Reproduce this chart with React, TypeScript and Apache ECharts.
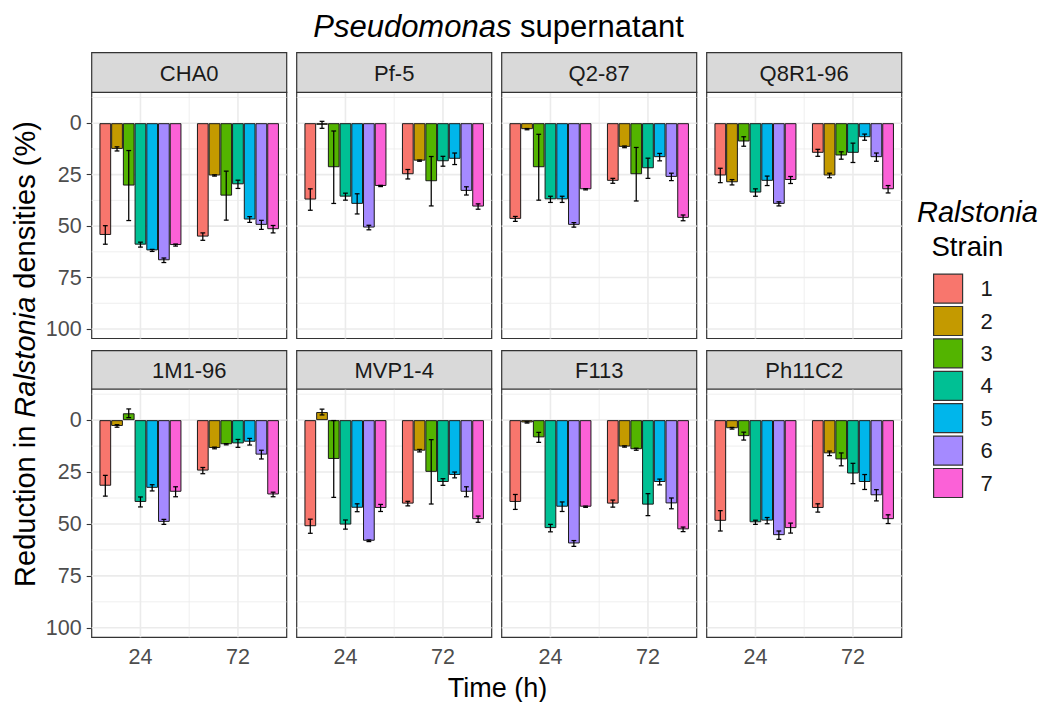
import React, { useEffect, useRef } from 'react';
import * as echarts from 'echarts';

// ---- data -------------------------------------------------------------
const times = ['24', '72'];
const strains = ['1', '2', '3', '4', '5', '6', '7'];
const strainColors = ['#F8766D', '#C49A00', '#53B400', '#00C094', '#00B6EB', '#A58AFF', '#FB61D7'];
const isolates = ['CHA0', 'Pf-5', 'Q2-87', 'Q8R1-96', '1M1-96', 'MVP1-4', 'F113', 'Ph11C2'];

// mean reduction (%) per strain, [24 h values, 72 h values]
const cha0Mean = [[54.3, 12.5, 30.3, 59.0, 61.8, 66.6, 59.2], [55.1, 25.4, 35.2, 29.7, 46.8, 49.4, 51.5]];
const cha0Err = [[4.5, 1.0, 17.0, 1.2, 0.5, 1.1, 0.5], [1.8, 0.3, 11.9, 2.0, 1.4, 2.2, 1.8]];
const pf5Mean = [[37.1, 0.8, 21.4, 35.7, 39.2, 50.7, 30.5], [24.8, 18.2, 28.2, 18.5, 17.3, 32.9, 40.5]];
const pf5Err = [[5.2, 1.7, 17.6, 1.7, 4.9, 1.1, 0.3], [2.3, 0.3, 12.0, 2.4, 2.8, 2.0, 1.3]];
const q287Mean = [[46.5, 2.9, 21.4, 37.0, 37.0, 49.4, 32.1], [28.0, 11.5, 24.8, 21.9, 16.5, 26.1, 46.0]];
const q287Err = [[1.2, 0.3, 16.0, 1.5, 1.5, 1.1, 0.3], [1.2, 0.4, 13.0, 4.9, 1.8, 1.8, 1.4]];
const q8r196Mean = [[25.4, 28.7, 8.9, 33.7, 28.0, 39.2, 27.6], [14.4, 25.4, 15.7, 14.4, 6.8, 16.5, 32.1]];
const q8r196Err = [[3.5, 1.3, 2.3, 1.8, 2.3, 1.0, 1.7], [1.7, 1.1, 1.8, 4.7, 1.5, 2.0, 1.8]];
const m196Mean = [[31.6, 2.8, -3.3, 39.4, 32.6, 49.0, 34.5], [24.3, 13.4, 11.6, 11.2, 10.4, 16.6, 35.8]];
const m196Err = [[5.0, 0.6, 2.1, 2.4, 1.5, 1.2, 2.4], [1.5, 0.4, 0.3, 1.9, 1.6, 2.1, 1.1]];
const mvp14Mean = [[51.1, -3.9, 18.7, 50.3, 42.2, 58.1, 42.3], [40.2, 14.7, 24.9, 29.8, 26.4, 34.5, 47.7]];
const mvp14Err = [[3.4, 1.4, 18.5, 2.2, 1.9, 0.4, 1.7], [1.1, 0.6, 15.5, 1.6, 1.4, 2.4, 1.5]];
const f113Mean = [[39.4, 1.1, 8.3, 52.0, 41.7, 59.4, 41.7], [40.2, 12.7, 14.0, 40.7, 29.8, 40.1, 52.6]];
const f113Err = [[3.6, 0.3, 2.4, 1.8, 2.3, 1.4, 0.3], [1.7, 0.3, 0.5, 5.3, 1.4, 2.6, 1.1]];
const ph11c2Mean = [[48.5, 3.9, 7.7, 49.2, 48.4, 55.4, 52.0], [42.3, 16.0, 18.9, 25.7, 29.8, 36.2, 47.7]];
const ph11c2Err = [[4.9, 0.4, 1.9, 1.0, 1.5, 2.0, 2.4], [2.0, 1.1, 3.1, 4.9, 3.6, 2.7, 2.1]];

const yTicks = [0, 25, 50, 75, 100];
const yMinor = [-12.5, 12.5, 37.5, 62.5, 87.5];

const panelMeans = [cha0Mean, pf5Mean, q287Mean, q8r196Mean, m196Mean, mvp14Mean, f113Mean, ph11c2Mean];
const panelErrs = [cha0Err, pf5Err, q287Err, q8r196Err, m196Err, mvp14Err, f113Err, ph11c2Err];

// ---- layout -----------------------------------------------------------
const FONT = '"Liberation Sans", Arial, sans-serif';
const Y_MIN = -15;
const Y_MAX = 104.6;
const COL_LEFT = [91.7, 296.7, 501.7, 706.7];
const PANEL_W = 195;
const ROW_TOP = [92.3, 389];
const ROW_H = [246.2, 248.3];
const STRIP_TOP = [52.7, 350.7];
const BAR_CAT_GAP = 0.159;
const BORDER = '#333333';

function buildOption() {
  const grids: any[] = [];
  const xAxes: any[] = [];
  const yAxes: any[] = [];
  const series: any[] = [];
  const graphics: any[] = [];

  isolates.forEach((name, i) => {
    const row = Math.floor(i / 4);
    const col = i % 4;
    grids.push({
      left: COL_LEFT[col],
      top: ROW_TOP[row],
      width: PANEL_W,
      height: ROW_H[row],
      show: true,
      backgroundColor: '#ffffff',
      borderColor: BORDER,
      borderWidth: 1.2,
      containLabel: false,
    });
    xAxes.push({
      type: 'category',
      gridIndex: i,
      data: times,
      boundaryGap: true,
      axisLine: { show: false },
      axisTick: { show: row === 1, alignWithLabel: true, length: 5, lineStyle: { color: BORDER, width: 1.1 } },
      axisLabel: { show: row === 1, color: '#4D4D4D', fontSize: 21.5, fontFamily: FONT, margin: 9 },
      splitLine: { show: false },
    });
    yAxes.push({
      type: 'value',
      gridIndex: i,
      inverse: true,
      min: Y_MIN,
      max: Y_MAX,
      axisLine: { show: false },
      splitLine: { show: false },
      axisTick: { show: col === 0, customValues: yTicks, length: 5, lineStyle: { color: BORDER, width: 1.1 } },
      axisLabel: { show: col === 0, customValues: yTicks, color: '#4D4D4D', fontSize: 21.5, fontFamily: FONT, margin: 10 },
    });

    // panel grid lines
    series.push({
      type: 'custom',
      xAxisIndex: i,
      yAxisIndex: i,
      silent: true,
      z: 1,
      data: [[0, 0]],
      encode: { x: 0, y: 1 },
      renderItem: (params: any, api: any) => {
        const cs = params.coordSys;
        const children: any[] = [];
        const hLine = (v: number, w: number) => {
          const y = api.coord([0, v])[1];
          children.push({ type: 'line', shape: { x1: cs.x, y1: y, x2: cs.x + cs.width, y2: y }, style: { stroke: '#EBEBEB', lineWidth: w } });
        };
        const vLine = (x: number, w: number) => {
          children.push({ type: 'line', shape: { x1: x, y1: cs.y, x2: x, y2: cs.y + cs.height }, style: { stroke: '#EBEBEB', lineWidth: w } });
        };
        yMinor.forEach((v) => hLine(v, 0.8));
        yTicks.forEach((v) => hLine(v, 1.6));
        const x0 = api.coord([0, 0])[0];
        const x1 = api.coord([1, 0])[0];
        vLine((x0 + x1) / 2, 0.8);
        vLine(x0, 1.6);
        vLine(x1, 1.6);
        return { type: 'group', children };
      },
    });

    // bars
    strains.forEach((s, k) => {
      series.push({
        type: 'bar',
        name: s,
        xAxisIndex: i,
        yAxisIndex: i,
        z: 2,
        barGap: '0%',
        barCategoryGap: `${BAR_CAT_GAP * 100}%`,
        data: times.map((_, t) => panelMeans[i][t][k]),
        itemStyle: { color: strainColors[k], borderColor: '#1A1A1A', borderWidth: 1 },
      });
    });

    // error bars
    const errData: any[] = [];
    times.forEach((_, t) => {
      strains.forEach((_s, k) => {
        errData.push([t, panelMeans[i][t][k], panelErrs[i][t][k], k]);
      });
    });
    series.push({
      type: 'custom',
      xAxisIndex: i,
      yAxisIndex: i,
      silent: true,
      z: 3,
      data: errData,
      encode: { x: 0, y: 1 },
      renderItem: (_params: any, api: any) => {
        const ci = api.value(0);
        const v = api.value(1);
        const e = api.value(2);
        const k = api.value(3);
        const band = api.size([1, 0])[0];
        const bw = (band * (1 - BAR_CAT_GAP)) / strains.length;
        const cx = api.coord([ci, v])[0] + (k - (strains.length - 1) / 2) * bw;
        const yA = api.coord([ci, v - e])[1];
        const yB = api.coord([ci, v + e])[1];
        const cap = 2.4;
        const style = { stroke: '#000000', lineWidth: 1.25 };
        return {
          type: 'group',
          children: [
            { type: 'line', shape: { x1: cx, y1: yA, x2: cx, y2: yB }, style },
            { type: 'line', shape: { x1: cx - cap, y1: yA, x2: cx + cap, y2: yA }, style },
            { type: 'line', shape: { x1: cx - cap, y1: yB, x2: cx + cap, y2: yB }, style },
          ],
        };
      },
    });

    // facet strip
    const sTop = STRIP_TOP[row];
    const sH = ROW_TOP[row] - sTop;
    graphics.push({
      type: 'rect',
      shape: { x: COL_LEFT[col], y: sTop, width: PANEL_W, height: sH },
      style: { fill: '#D9D9D9', stroke: BORDER, lineWidth: 1.2 },
      z: 10,
    });
    graphics.push({
      type: 'text',
      x: COL_LEFT[col] + PANEL_W / 2,
      y: sTop + sH / 2 + 1,
      style: { text: name, fontSize: 22, fontFamily: FONT, fill: '#1A1A1A', align: 'center', verticalAlign: 'middle' },
      z: 11,
    });
  });

  // main title
  graphics.push({
    type: 'text',
    x: 498.5,
    y: 26,
    style: {
      text: '{i|Pseudomonas} supernatant',
      fontSize: 31,
      fontFamily: FONT,
      fill: '#000000',
      align: 'center',
      verticalAlign: 'middle',
      rich: { i: { fontStyle: 'italic', fontSize: 31, fontFamily: FONT, fill: '#000000' } },
    },
  });
  // y axis title
  graphics.push({
    type: 'text',
    x: 25,
    y: 354,
    rotation: Math.PI / 2,
    style: {
      text: 'Reduction in {i|Ralstonia} densities (%)',
      fontSize: 29,
      fontFamily: FONT,
      fill: '#000000',
      align: 'center',
      verticalAlign: 'middle',
      rich: { i: { fontStyle: 'italic', fontSize: 29, fontFamily: FONT, fill: '#000000' } },
    },
  });
  // x axis title
  graphics.push({
    type: 'text',
    x: 497.5,
    y: 688,
    style: { text: 'Time (h)', fontSize: 27, fontFamily: FONT, fill: '#000000', align: 'center', verticalAlign: 'middle' },
  });
  // legend title
  graphics.push({
    type: 'text',
    x: 917,
    y: 211.5,
    style: { text: 'Ralstonia', fontSize: 29, fontStyle: 'italic', fontFamily: FONT, fill: '#000000', align: 'left', verticalAlign: 'middle' },
  });
  graphics.push({
    type: 'text',
    x: 931.5,
    y: 246.5,
    style: { text: 'Strain', fontSize: 27.5, fontFamily: FONT, fill: '#000000', align: 'left', verticalAlign: 'middle' },
  });

  return {
    animation: false,
    backgroundColor: '#ffffff',
    grid: grids,
    xAxis: xAxes,
    yAxis: yAxes,
    series,
    graphic: graphics,
    legend: {
      data: strains,
      orient: 'vertical',
      left: 933,
      top: 273.5,
      padding: 0,
      itemWidth: 29,
      itemHeight: 29,
      itemGap: 2.2,
      icon: 'rect',
      selectedMode: false,
      itemStyle: { borderColor: BORDER, borderWidth: 1.2 },
      textStyle: { fontSize: 22, fontFamily: FONT, color: '#1A1A1A', padding: [0, 0, 0, 13] },
    },
  };
}

export default function App() {
  const ref = useRef<HTMLDivElement>(null);
  useEffect(() => {
    if (!ref.current) return;
    const chart = echarts.init(ref.current, null, { renderer: 'svg' });
    chart.setOption(buildOption() as any);
    return () => chart.dispose();
  }, []);
  return <div ref={ref} style={{ position: 'absolute', left: 0, top: 0, width: 1043, height: 702 }} />;
}
